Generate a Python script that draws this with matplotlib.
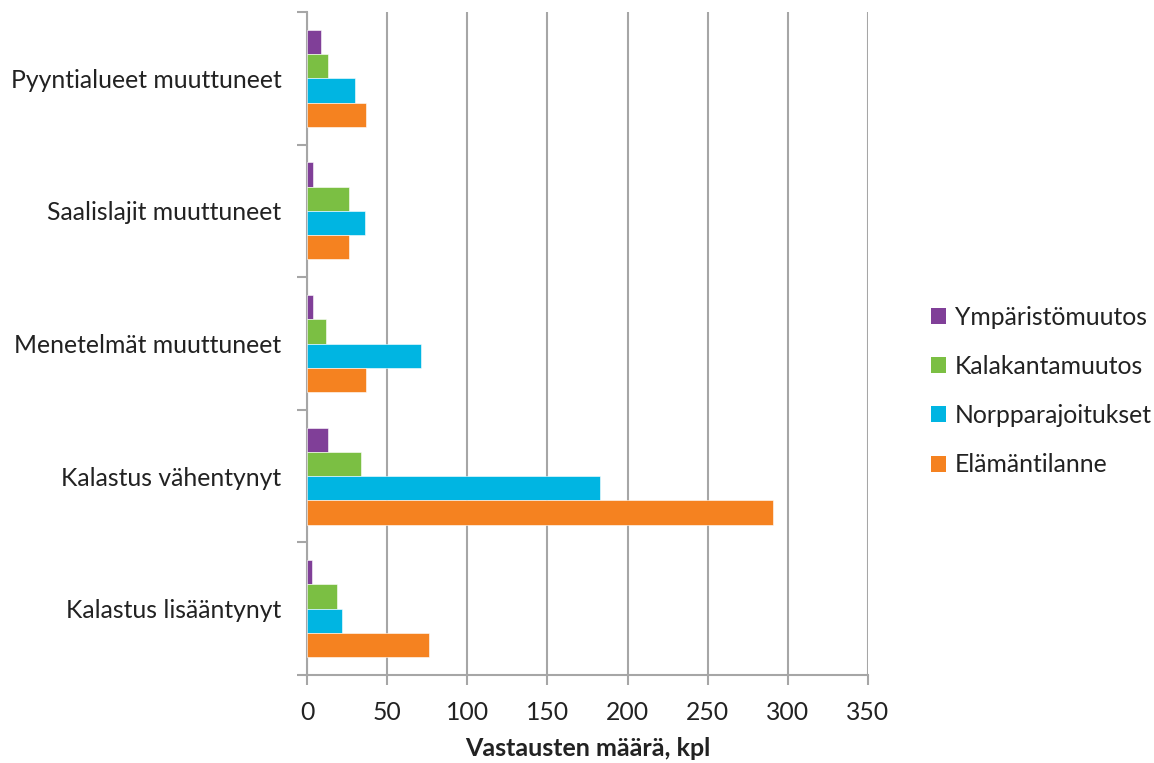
import matplotlib
matplotlib.use("Agg")
import matplotlib.pyplot as plt
import numpy as np
from matplotlib.patches import Patch

categories = ["Kalastus lisääntynyt", "Kalastus vähentynyt", "Menetelmät muuttuneet",
              "Saalislajit muuttuneet", "Pyyntialueet muuttuneet"]
series_names = ["Ympäristömuutos", "Kalakantamuutos", "Norpparajoitukset", "Elämäntilanne"]
ymparisto = [3, 13, 4, 4, 9]
kalakanta = [19, 34, 12, 26, 13]
norppa = [22, 183, 71, 36, 30]
elamantilanne = [76, 291, 37, 26, 37]
colors = ["#803F98", "#7BBF43", "#00B5E2", "#F58220"]
xticks = [0, 50, 100, 150, 200, 250, 300, 350]
xlabel = "Vastausten määrä, kpl"

plt.rcParams['font.family'] = ['Lato', 'DejaVu Sans']
FS = 17.8

fig = plt.figure(figsize=(11.54, 7.63), dpi=100)
ax = fig.add_axes([307/1154, 1-675/763, (868-307)/1154, (675-12)/763])

values = [ymparisto, kalakanta, norppa, elamantilanne]
y = np.arange(len(categories))
h = 0.183
offsets = [1.5*h, 0.5*h, -0.5*h, -1.5*h]
for vals, off, col, name in zip(values, offsets, colors, series_names):
    ax.barh(y + off, vals, height=h, color=col, edgecolor="white", linewidth=0.4,
            label=name, zorder=3)

gc = "#A6A6A6"
tc = "#222222"
ax.set_xlim(0, 350)
ax.set_ylim(-0.5, len(categories)-0.5)
ax.set_xticks(xticks)
ax.set_xticklabels([str(t) for t in xticks], fontsize=FS, color=tc)
ax.set_yticks(y)
ax.set_yticklabels(categories, fontsize=FS, color=tc)
ax.set_yticks(np.arange(-0.5, len(categories), 1), minor=True)
ax.tick_params(axis='y', which='major', length=0, pad=18.5)
ax.tick_params(axis='y', which='minor', length=7, width=1.5, color=gc)
ax.tick_params(axis='x', which='major', length=7, width=1.5, color=gc, pad=12)
ax.grid(axis='x', color=gc, linewidth=1.5, zorder=0)
for s in ["top", "right"]:
    ax.spines[s].set_visible(False)
for s in ["left", "bottom"]:
    ax.spines[s].set_color(gc)
    ax.spines[s].set_linewidth(1.5)

ax.set_xlabel(xlabel, fontsize=18, fontweight="bold", color=tc, labelpad=9)

handles = [Patch(facecolor=c, edgecolor="none") for c in colors]
leg = fig.legend(handles, series_names, loc="center left", bbox_to_anchor=(931/1154, 1-391/763),
                 frameon=False, fontsize=FS, handlelength=0.61, handleheight=0.61,
                 handletextpad=0.35, labelspacing=1.06, borderpad=0, borderaxespad=0)
for t in leg.get_texts():
    t.set_color(tc)

fig.savefig("out.png", dpi=100)
